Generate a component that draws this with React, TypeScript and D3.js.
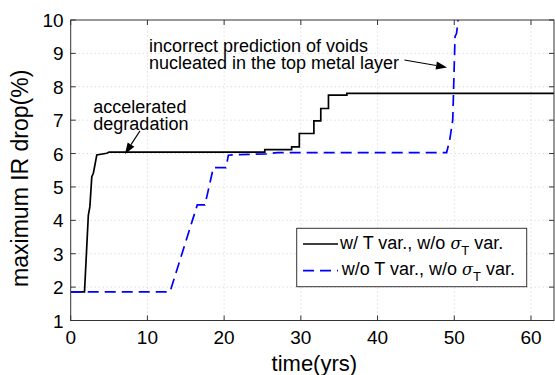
import React from "react";
import * as d3 from "d3";

// Time in years, maximum IR drop in percent — with temperature variation
const timeWithT = [0, 1.8, 2.3, 2.5, 2.75, 2.95, 3.2, 3.4, 4.7, 5.0, 25.3, 25.3, 28.8, 28.8, 29.8, 29.8, 31.7, 31.7, 32.6, 32.6, 33.6, 33.6, 36.0, 36.0, 63];
const dropWithT = [1.86, 1.86, 4.16, 4.41, 5.31, 5.41, 5.71, 5.96, 6.01, 6.04, 6.04, 6.12, 6.12, 6.2, 6.2, 6.6, 6.6, 6.98, 6.98, 7.35, 7.35, 7.75, 7.75, 7.8, 7.8];

// Without temperature variation
const timeWithoutT = [0, 12.95, 16.5, 17.5, 18.6, 20.25, 20.55, 22.0, 25.5, 27.0, 49.0, 49.4, 49.8, 50.1, 50.3, 50.6];
const dropWithoutT = [1.86, 1.86, 4.46, 4.46, 5.58, 5.58, 5.95, 5.97, 5.99, 6.03, 6.03, 6.4, 7.0, 9.5, 9.6, 10.2];

const xTicks = [0, 10, 20, 30, 40, 50, 60];
const yTicks = [1, 2, 3, 4, 5, 6, 7, 8, 9, 10];

const legendLabels = ["w/ T var., w/o ", "w/o T var., w/o "];

const FONT = "'Liberation Sans', Arial, Helvetica, sans-serif";

function Arrow({ x1, y1, x2, y2 }: { x1: number; y1: number; x2: number; y2: number }) {
  const ang = Math.atan2(y2 - y1, x2 - x1);
  const len = 11;
  const half = 4;
  const bx = x2 - len * Math.cos(ang);
  const by = y2 - len * Math.sin(ang);
  const px = -Math.sin(ang) * half;
  const py = Math.cos(ang) * half;
  return (
    <g>
      <line x1={x1} y1={y1} x2={bx} y2={by} stroke="#000" strokeWidth={1.1} />
      <polygon points={`${x2},${y2} ${bx + px},${by + py} ${bx - px},${by - py}`} fill="#000" />
    </g>
  );
}

export default function App() {
  const width = 555;
  const height = 375;
  const x = d3.scaleLinear().domain([0, 63]).range([70.7, 554]);
  const y = d3.scaleLinear().domain([1, 10]).range([320.5, 20]);

  const mk = (ts: number[], vs: number[]) =>
    d3
      .line<number>()
      .x((t) => x(t))
      .y((_, i) => y(vs[i]))(ts) as string;

  const [x0, x1] = x.range();
  const [y0, y1] = y.range();

  return (
    <div style={{ position: "fixed", left: 0, top: 0 }}>
      <svg width={width} height={height} style={{ display: "block", fontFamily: FONT }}>
        <rect x={0} y={0} width={width} height={height} fill="#fff" />
        <defs>
          <clipPath id="plotArea">
            <rect x={x0} y={y1} width={x1 - x0} height={y0 - y1} />
          </clipPath>
        </defs>

        {/* grid */}
        <g stroke="#c4c4c4" strokeWidth={0.8} strokeDasharray="1 3">
          {xTicks.filter((t) => t > 0).map((t) => (
            <line key={"gx" + t} x1={x(t)} x2={x(t)} y1={y0} y2={y1} />
          ))}
          {yTicks.filter((t) => t > 1 && t < 10).map((t) => (
            <line key={"gy" + t} x1={x0} x2={x1} y1={y(t)} y2={y(t)} />
          ))}
        </g>

        {/* series */}
        <g clipPath="url(#plotArea)" fill="none">
          <path d={mk(timeWithT, dropWithT)} stroke="#000" strokeWidth={1.7} strokeLinejoin="miter" />
          <path d={mk(timeWithoutT, dropWithoutT)} stroke="#0000ff" strokeWidth={1.7} strokeDasharray="11 6" />
        </g>

        {/* axes box and ticks */}
        <rect x={x0} y={y1} width={x1 - x0} height={y0 - y1} fill="none" stroke="#333" strokeWidth={1} />
        <g stroke="#333" strokeWidth={1}>
          {xTicks.map((t) => (
            <g key={"tx" + t}>
              <line x1={x(t)} x2={x(t)} y1={y0} y2={y0 - 5} />
              <line x1={x(t)} x2={x(t)} y1={y1} y2={y1 + 5} />
            </g>
          ))}
          {yTicks.map((t) => (
            <g key={"ty" + t}>
              <line x1={x0} x2={x0 + 5} y1={y(t)} y2={y(t)} />
              <line x1={x1} x2={x1 - 5} y1={y(t)} y2={y(t)} />
            </g>
          ))}
        </g>

        {/* tick labels */}
        <g fontSize={19} fill="#000">
          {xTicks.map((t) => (
            <text key={"lx" + t} x={x(t)} y={y0 + 23.5} textAnchor="middle">
              {t}
            </text>
          ))}
          {yTicks.map((t) => (
            <text key={"ly" + t} x={x0 - 7} y={y(t) + 7} textAnchor="end">
              {t}
            </text>
          ))}
        </g>

        {/* axis titles */}
        <text x={(x0 + x1) / 2 + 2} y={371} textAnchor="middle" fontSize={22}>
          time(yrs)
        </text>
        <text transform={`translate(28,${(y0 + y1) / 2 + 8}) rotate(-90)`} textAnchor="middle" fontSize={23}>
          maximum IR drop(%)
        </text>

        {/* annotations */}
        <g fontSize={18} fill="#000">
          <text x={x(2.95)} y={y(7.22)}>accelerated</text>
          <text x={x(2.95)} y={y(6.7)}>degradation</text>
          <text x={x(10.2)} y={y(9.05)}>incorrect prediction of voids</text>
          <text x={x(10.2)} y={y(8.53)}>nucleated in the top metal layer</text>
        </g>
        <Arrow x1={x(9.03)} y1={y(6.68)} x2={x(7.08)} y2={y(5.99)} />
        <Arrow x1={x(43.5)} y1={y(8.8)} x2={x(49.06)} y2={y(8.58)} />

        {/* legend */}
        <g>
          <rect x={296.7} y={228.3} width={230} height={58.4} fill="#fff" stroke="#333" strokeWidth={1} />
          <line x1={303} x2={338} y1={244} y2={244} stroke="#000" strokeWidth={1.7} />
          <line x1={303} x2={338} y1={270.7} y2={270.7} stroke="#0000ff" strokeWidth={1.7} strokeDasharray="11 6" />
          {legendLabels.map((lab, i) => (
            <text key={lab} x={i === 0 ? 340 : 341.7} y={i === 0 ? 248.5 : 275} fontSize={18}>
              {lab}
              <tspan fontStyle="italic" fontFamily="'DejaVu Serif', serif" fontSize={16}>σ</tspan>
              <tspan fontSize={13} dy={6}>T</tspan>
              <tspan dy={-6}> var.</tspan>
            </text>
          ))}
        </g>
      </svg>
    </div>
  );
}
